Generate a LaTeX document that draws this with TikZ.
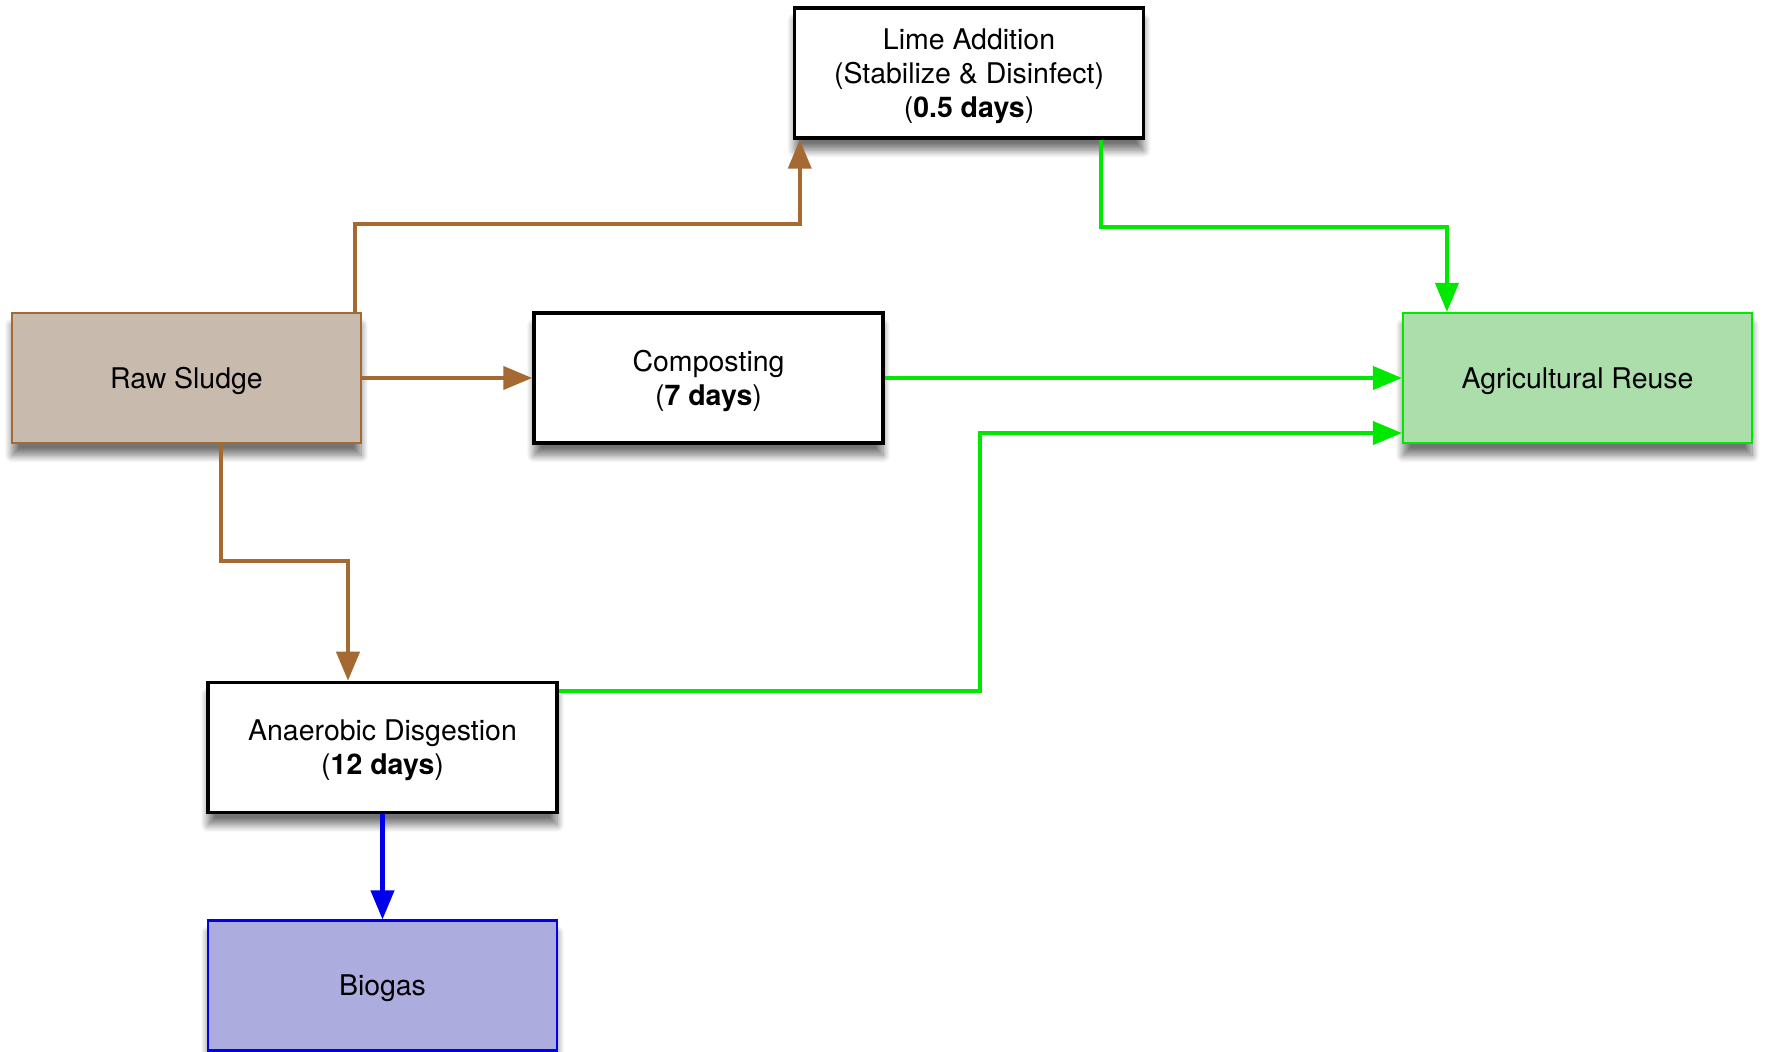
\documentclass[tikz,border=0pt]{standalone}
\usepackage{fontspec}
\setmainfont{TeX Gyre Heros}
\usepackage{xcolor}
\definecolor{ColBrown}{RGB}{165,105,50}
\definecolor{ColSludge}{RGB}{200,186,172}
\definecolor{ColGreen}{RGB}{0,232,0}
\definecolor{ColReuse}{RGB}{172,222,172}
\definecolor{ColBlue}{RGB}{0,0,235}
\definecolor{ColGas}{RGB}{172,172,222}
\usepackage{tikz}
\usetikzlibrary{arrows.meta}
\usetikzlibrary{shadows.blur}
\tikzstyle{Box}=[rectangle,draw=black,fill=white,line width=1pt,
minimum width=3.49cm,minimum height=1.3cm,align=center,text depth=0pt,
font=\fontsize{8.1}{9.7}\selectfont,
blur shadow={shadow xshift=0pt,shadow yshift=-3.5pt,shadow blur steps=12,
shadow opacity=55}]
\tikzstyle{Sludge}=[Box,draw=ColBrown,fill=ColSludge,line width=.6pt]
\tikzstyle{Reuse}=[Box,draw=ColGreen,fill=ColReuse,line width=.6pt]
\tikzstyle{Gas}=[Box,draw=ColBlue,fill=ColGas,line width=.6pt]
\tikzstyle{Edge}=[line width=1.15pt,-{Triangle[length=2.9mm,width=2.3mm]}]
\tikzstyle{EdgeBrown}=[Edge,color=ColBrown]
\tikzstyle{EdgeGreen}=[Edge,color=ColGreen]
\tikzstyle{EdgeBlue}=[Edge,color=ColBlue]

\begin{document}
\begin{tikzpicture}
    \useasboundingbox (0,0) rectangle (17.67,-10.52);
        \node[Sludge](raw)at(1.865,-3.78){Raw Sludge};
        \node[Box](comp)at(7.085,-3.78){Composting\\(\textbf{7 days})};
        \node[Box](lime)at(9.69,-0.73){Lime Addition\\(Stabilize \& Disinfect)\\(\textbf{0.5 days})};
        \node[Reuse](agri)at(15.775,-3.78){Agricultural Reuse};
        \node[Box](anae)at(3.825,-7.475){Anaerobic Disgestion\\(\textbf{12 days})};
        \node[Gas](bio)at(3.825,-9.855){Biogas};
        \draw[EdgeBrown]([xshift=-.07cm]raw.north east)--++(0,.88)
            -|([xshift=.07cm]lime.south west);
        \draw[EdgeBrown](raw.east)--(comp.west);
        \draw[EdgeBrown]([xshift=.345cm]raw.south)--++(0,-1.17)
            -|([xshift=-.345cm]anae.north);
        \draw[EdgeGreen]([xshift=-.44cm]lime.south east)--++(0,-.87)
            -|([xshift=.45cm]agri.north west);
        \draw[EdgeGreen](comp.east)--(agri.west);
        \draw[EdgeGreen]([yshift=-.1cm]anae.north east)--++(4.21,0)
            |-([yshift=.11cm]agri.south west);
        \draw[EdgeBlue](anae.south)--(bio.north);
    \end{tikzpicture}
\end{document}
